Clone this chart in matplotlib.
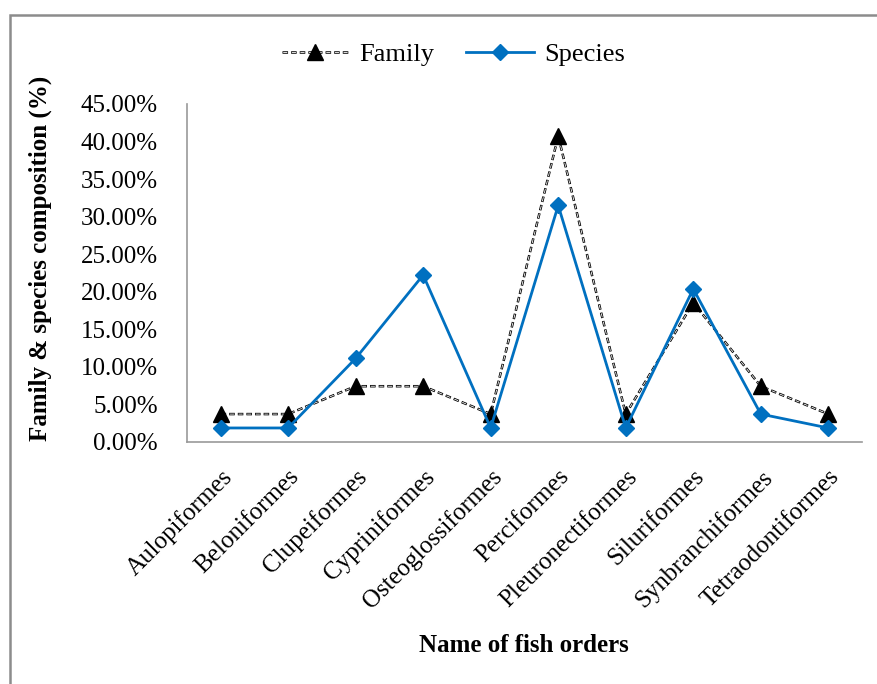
import matplotlib
matplotlib.use("Agg")
import matplotlib.pyplot as plt
from matplotlib.legend_handler import HandlerTuple
from matplotlib.patches import Rectangle
from matplotlib.ticker import FuncFormatter, MultipleLocator

orders = ["Aulopiformes", "Beloniformes", "Clupeiformes", "Cypriniformes",
          "Osteoglossiformes", "Perciformes", "Pleuronectiformes",
          "Siluriformes", "Synbranchiformes", "Tetraodontiformes"]
family_pct = [3.70, 3.70, 7.41, 7.41, 3.70, 40.74, 3.70, 18.52, 7.41, 3.70]
species_pct = [1.85, 1.85, 11.11, 22.22, 1.85, 31.48, 1.85, 20.37, 3.70, 1.85]

plt.rcParams["font.family"] = ["Liberation Serif", "DejaVu Serif"]
plt.rcParams["lines.scale_dashes"] = False

fig = plt.figure(figsize=(8.77, 6.84), dpi=100)
ax = fig.add_axes([0.213, 0.354, 0.770, 0.494])

x = list(range(len(orders)))

# hollow-looking dashes for the family series: black dashes with a thin white core
fam_outer, = ax.plot(x, family_pct, color="black", lw=1.8,
                     ls=(0, (4.0, 2.2)), zorder=3)
fam_inner, = ax.plot(x, family_pct, color="white", lw=0.6,
                     ls=(5.7, (3.0, 3.2)), zorder=3.1)
fam_mark, = ax.plot(x, family_pct, ls="none", marker="^", ms=11,
                    mfc="black", mec="black", zorder=3.2)
spe_line, = ax.plot(x, species_pct, color="#0070C0", lw=2.0,
                    marker="D", ms=8, mfc="#0070C0", mec="#0070C0", zorder=4)

ax.set_xlim(-0.5, len(orders) - 0.5)
ax.set_ylim(0, 45)
ax.yaxis.set_major_locator(MultipleLocator(5))
ax.yaxis.set_major_formatter(FuncFormatter(lambda v, p: f"{v:.2f}%"))
ax.set_xticks(x)
ax.set_xticklabels(orders, rotation=45, ha="right", va="top",
                   rotation_mode="anchor", fontsize=18)
ax.tick_params(axis="both", length=0, labelsize=18)
ax.tick_params(axis="x", pad=17)
ax.tick_params(axis="y", pad=21)

for side in ("top", "right"):
    ax.spines[side].set_visible(False)
for side in ("left", "bottom"):
    ax.spines[side].set_color("#999999")
    ax.spines[side].set_linewidth(1.2)

fig.text(40 / 877, 1 - 258 / 684, "Family & species composition (%)",
         fontsize=18, fontweight="bold", rotation=90,
         ha="center", va="center")
fig.text(0.597, 0.057, "Name of fish orders", fontsize=18,
         fontweight="bold", ha="center", va="center")

fig.legend([(fam_outer, fam_inner, fam_mark), spe_line], ["Family", "Species"],
           handler_map={tuple: HandlerTuple(ndivide=1, pad=0)},
           loc="center", bbox_to_anchor=(0.517, 0.921), ncol=2,
           frameon=False, fontsize=19, handlelength=2.55,
           columnspacing=1.2, handletextpad=0.4)

fig.add_artist(Rectangle((10 / 877, -0.1), 1.2, 1 - 15 / 684 + 0.1,
                         transform=fig.transFigure, fill=False,
                         edgecolor="#8c8c8c", lw=1.8))

fig.savefig("out.png", dpi=100)
